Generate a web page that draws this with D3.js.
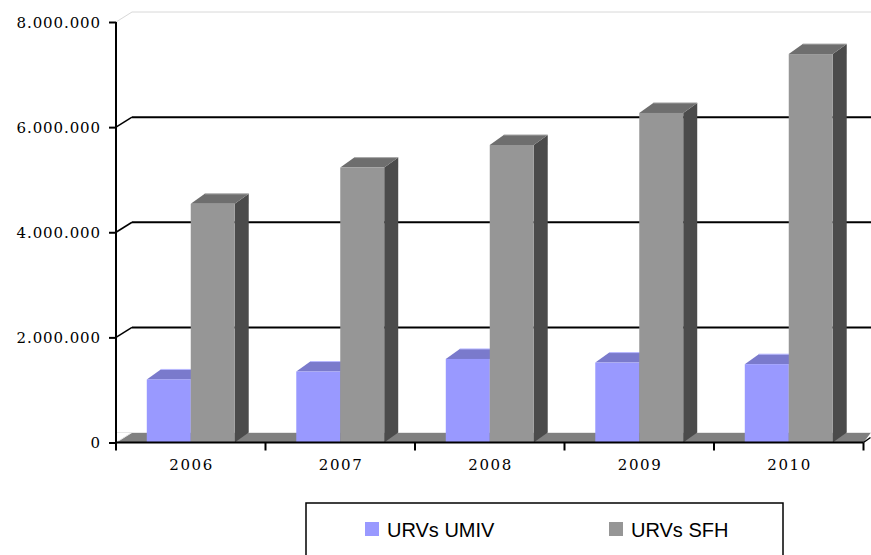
<!DOCTYPE html>
<html><head><meta charset="utf-8">
<script src="https://cdn.jsdelivr.net/npm/d3@7"></script>
<style>
html,body{margin:0;padding:0;background:#fff;}
svg{display:block;}
</style></head>
<body><svg id="c" width="871" height="555"></svg>
<script>
const years = ["2006","2007","2008","2009","2010"];
const seriesNames = ["URVs UMIV","URVs SFH"];
const umiv = [1200000, 1350000, 1590000, 1520000, 1490000];
const sfh = [4540000, 5230000, 5660000, 6270000, 7390000];
const yTicks = [0, 2000000, 4000000, 6000000, 8000000];

const frontColors = ["#9999FF", "#969696"];
const topColors = ["#7A7ACC", "#6E6E6E"];
const sideColors = ["#5C5C99", "#4B4B4B"];

const svg = d3.select("#c");
const left = 116, right = 863.5, bottom = 442.5, topY = 22;
const wdx = 16, wdy = -10;   // wall depth
const bdx = 14, bdy = -10;   // bar depth

const y = d3.scaleLinear().domain([0, 8000000]).range([bottom, topY]);
const x0 = d3.scaleBand().domain(years).range([left, right]).paddingInner(0).paddingOuter(0);
const x1 = d3.scaleBand().domain(seriesNames).range([0, x0.bandwidth()]).paddingInner(0).paddingOuter(0.7);

const loc = d3.formatLocale({decimal: ",", thousands: ".", grouping: [3], currency: ["", ""]});
const fmt = loc.format(",d");

// back wall gridlines
yTicks.forEach(t => {
  const yy = y(t);
  if (t === 0) return;
  const col = t === 8000000 ? "#d8d8d8" : "#000";
  const sw = t === 8000000 ? 1 : 2;
  svg.append("line").attr("x1", left).attr("y1", yy).attr("x2", left + wdx).attr("y2", yy + wdy)
    .attr("stroke", col).attr("stroke-width", t === 8000000 ? 1 : 1.5);
  svg.append("line").attr("x1", left + wdx).attr("y1", yy + wdy).attr("x2", 871).attr("y2", yy + wdy)
    .attr("stroke", col).attr("stroke-width", sw);
});

// floor
svg.append("path")
  .attr("d", `M${left},${bottom} L${left + wdx},${bottom + wdy} L871,${bottom + wdy} L${right},${bottom} Z`)
  .attr("fill", "#808080");
svg.append("line").attr("x1", left + 1).attr("y1", bottom + wdy).attr("x2", 871).attr("y2", bottom + wdy)
  .attr("stroke", "#e6e6e6").attr("stroke-width", 1.2);
svg.append("line").attr("x1", left).attr("y1", bottom).attr("x2", left + wdx).attr("y2", bottom + wdy)
  .attr("stroke", "#e6e6e6").attr("stroke-width", 1);

// bars
const data = years.map((yr, i) => ({yr, vals: [umiv[i], sfh[i]]}));
data.forEach(d => {
  d.vals.forEach((v, s) => {
    const xa = x0(d.yr) + x1(seriesNames[s]);
    const w = x1.bandwidth();
    const yt = y(v);
    const g = svg.append("g");
    g.append("path")
      .attr("d", `M${xa + w},${bottom} L${xa + w + bdx},${bottom + bdy} L${xa + w + bdx},${yt + bdy} L${xa + w},${yt} Z`)
      .attr("fill", sideColors[s]);
    g.append("path")
      .attr("d", `M${xa},${yt} L${xa + bdx},${yt + bdy} L${xa + w + bdx},${yt + bdy} L${xa + w},${yt} Z`)
      .attr("fill", topColors[s]);
    g.append("line").attr("x1", xa + bdx).attr("y1", yt + bdy).attr("x2", xa + w + bdx).attr("y2", yt + bdy)
      .attr("stroke", s === 0 ? "#b8b8ff" : "#a8a8a8").attr("stroke-width", 1);
    g.append("rect").attr("x", xa).attr("y", yt).attr("width", w).attr("height", bottom - yt)
      .attr("fill", frontColors[s]);
  });
});

// y axis
const yAxis = d3.axisLeft(y).tickValues(yTicks).tickFormat(fmt).tickSize(7).tickPadding(8);
const ga = svg.append("g").attr("transform", `translate(${left},0)`).call(yAxis);
ga.attr("font-size", null).attr("font-family", null);
ga.select(".domain").attr("d", `M0,${topY}V${bottom + 8}`).attr("stroke", "#000").attr("stroke-width", 2);
ga.selectAll(".tick line").attr("stroke", "#000").attr("stroke-width", 2);
ga.selectAll(".tick text").attr("fill", "#000")
  .style("font-family", "'DejaVu Serif', serif").style("font-size", "15px")
  .style("letter-spacing", "0.9px").attr("dy", "0.36em");

// x axis
const xAxis = d3.axisBottom(x0).tickSize(0).tickPadding(17);
const gx = svg.append("g").attr("transform", `translate(0,${bottom})`).call(xAxis);
gx.attr("font-size", null).attr("font-family", null);
gx.select(".domain").remove();
gx.selectAll(".tick text").attr("fill", "#000")
  .style("font-family", "'DejaVu Serif', serif").style("font-size", "15px")
  .style("letter-spacing", "1.6px").attr("dx", "0.8px");
svg.append("line").attr("x1", left).attr("y1", bottom).attr("x2", right).attr("y2", bottom)
  .attr("stroke", "#000").attr("stroke-width", 2);
svg.append("line").attr("x1", right).attr("y1", bottom).attr("x2", right + 7).attr("y2", bottom - 5)
  .attr("stroke", "#000").attr("stroke-width", 1.5);
const bounds = years.map(yr => x0(yr) + x0.bandwidth());
svg.selectAll(".xt").data(bounds).enter().append("line")
  .attr("x1", d => d).attr("x2", d => d).attr("y1", bottom).attr("y2", bottom + 8)
  .attr("stroke", "#000").attr("stroke-width", 2);

// legend
svg.append("rect").attr("x", 306).attr("y", 503).attr("width", 477).attr("height", 80)
  .attr("fill", "#fff").attr("stroke", "#000").attr("stroke-width", 1.5);
const legX = [365, 609];
seriesNames.forEach((n, i) => {
  svg.append("rect").attr("x", legX[i]).attr("y", 522).attr("width", 14).attr("height", 14)
    .attr("fill", frontColors[i]);
  svg.append("text").attr("x", legX[i] + 22).attr("y", 536.5).text(n)
    .style("font-family", "'Liberation Sans', Arial, sans-serif").style("font-size", "20px")
    .attr("fill", "#000");
});
</script></body></html>
